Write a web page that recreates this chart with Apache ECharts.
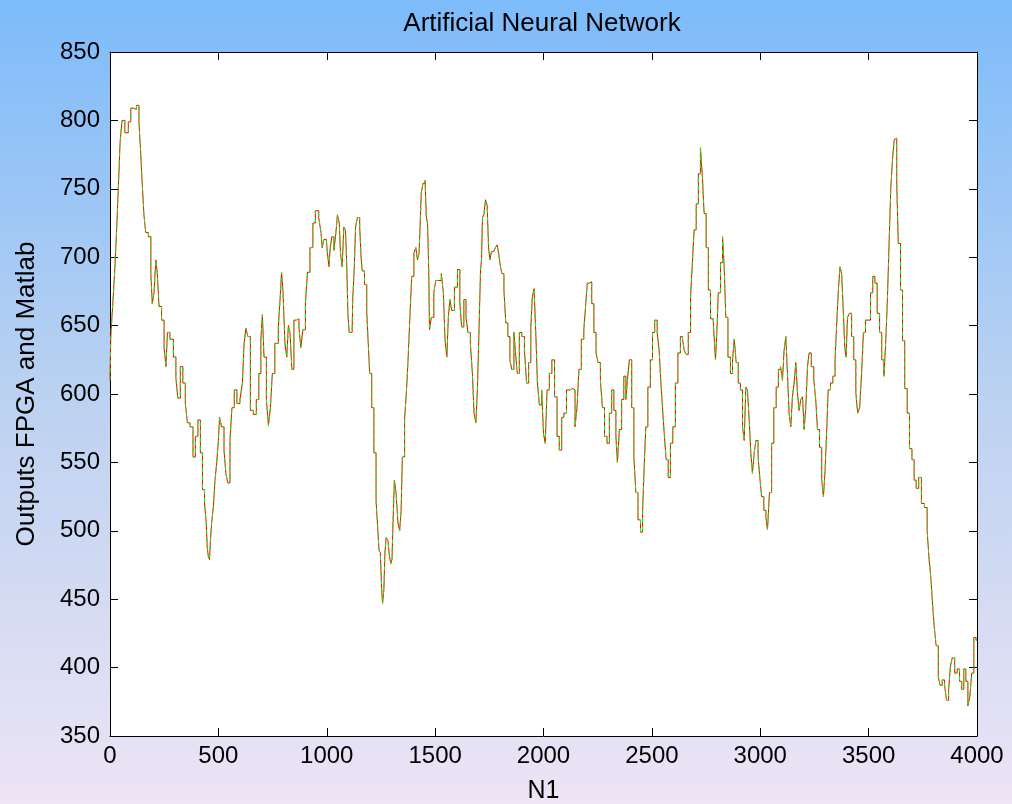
<!DOCTYPE html>
<html>
<head>
<meta charset="utf-8">
<title>Artificial Neural Network</title>
<script src="https://cdn.jsdelivr.net/npm/echarts@6/dist/echarts.min.js"></script>
<style>
  html, body { margin: 0; padding: 0; }
  #chart { width: 1012px; height: 804px; }
</style>
</head>
<body>
<div id="chart"></div>
<script>
// sample index (N1) and network output
const n1 = [
  0, 7, 18, 25, 35, 42, 51, 60, 77, 92, 100, 115, 129, 138, 146, 152, 161, 169, 185, 192,
  198, 208, 215, 221, 231, 245, 254, 262, 268, 285, 300, 308, 318, 331, 341, 354, 360, 378, 388, 400,
  411, 423, 430, 442, 446, 451, 457, 461, 466, 472, 481, 488, 497, 503, 508, 521, 531, 538, 549, 558,
  567, 580, 591, 608, 614, 623, 631, 641, 654, 669, 681, 692, 700, 706, 715, 728, 734, 746, 752, 769,
  784, 789, 794, 803, 811, 820, 826, 835, 843, 854, 866, 877, 884, 895, 908, 914, 931, 941, 954, 972,
  975, 983, 991, 998, 1006, 1014, 1018, 1029, 1037, 1044, 1055, 1060, 1067, 1075, 1083, 1090, 1095, 1100, 1107, 1117,
  1123, 1130, 1136, 1147, 1157, 1160, 1167, 1181, 1188, 1193, 1203, 1212, 1223, 1232, 1240, 1242, 1252, 1255, 1260, 1267,
  1270, 1278, 1286, 1293, 1298, 1304, 1309, 1315, 1324, 1333, 1340, 1346, 1352, 1366, 1370, 1379, 1387, 1397, 1407, 1415,
  1422, 1430, 1433, 1439, 1449, 1458, 1461, 1469, 1472, 1476, 1489, 1499, 1507, 1522, 1535, 1541, 1550, 1558, 1564, 1572,
  1582, 1596, 1610, 1618, 1627, 1638, 1647, 1656, 1669, 1675, 1684, 1692, 1698, 1707, 1712, 1716, 1721, 1729, 1736, 1744,
  1749, 1756, 1764, 1775, 1782, 1790, 1798, 1803, 1813, 1822, 1830, 1841, 1849, 1858, 1869, 1876, 1882, 1895, 1905, 1919,
  1925, 1938, 1945, 1952, 1961, 1969, 1975, 1987, 1996, 2004, 2012, 2021, 2033, 2044, 2058, 2067, 2079, 2089, 2099, 2113,
  2130, 2141, 2150, 2159, 2168, 2181, 2191, 2199, 2205, 2218, 2227, 2238, 2247, 2256, 2269, 2275, 2288, 2298, 2310, 2319,
  2330, 2338, 2344, 2356, 2365, 2376, 2384, 2390, 2402, 2412, 2422, 2430, 2442, 2453, 2461, 2468, 2476, 2487, 2499, 2507,
  2519, 2530, 2537, 2545, 2553, 2561, 2571, 2580, 2591, 2602, 2615, 2625, 2638, 2645, 2653, 2663, 2673, 2684, 2691, 2699,
  2710, 2719, 2729, 2737, 2745, 2756, 2765, 2776, 2791, 2796, 2802, 2811, 2822, 2830, 2837, 2845, 2857, 2868, 2876, 2884,
  2894, 2903, 2914, 2922, 2930, 2937, 2945, 2953, 2960, 2968, 2976, 2984, 2996, 3002, 3011, 3022, 3030, 3037, 3048, 3057,
  3068, 3079, 3088, 3099, 3106, 3114, 3122, 3129, 3137, 3145, 3152, 3160, 3168, 3175, 3183, 3191, 3199, 3206, 3214, 3222,
  3229, 3242, 3252, 3260, 3268, 3279, 3288, 3295, 3303, 3309, 3318, 3330, 3340, 3350, 3356, 3365, 3371, 3380, 3387, 3393,
  3399, 3406, 3417, 3426, 3437, 3445, 3454, 3463, 3472, 3480, 3491, 3503, 3514, 3524, 3534, 3545, 3556, 3565, 3576, 3583,
  3591, 3599, 3606, 3614, 3622, 3626, 3633, 3641, 3653, 3660, 3673, 3683, 3694, 3706, 3714, 3725, 3737, 3750, 3765, 3775,
  3783, 3792, 3799, 3806, 3817, 3826, 3834, 3845, 3856, 3863, 3875, 3880, 3891, 3903, 3914, 3925, 3934, 3944, 3953, 3963,
  3971, 3980, 3991, 4000
];
const outputs = [
  610, 642, 665, 689, 718, 751, 784, 800, 791, 799, 809, 808, 811, 799, 775, 753, 731, 718, 715, 688,
  666, 674, 698, 689, 664, 654, 634, 620, 645, 640, 627, 612, 597, 620, 608, 593, 579, 576, 554, 569,
  581, 557, 530, 520, 506, 488, 481, 479, 493, 506, 517, 537, 550, 566, 583, 576, 559, 542, 535, 566,
  590, 603, 593, 596, 608, 637, 648, 642, 588, 585, 596, 615, 640, 658, 627, 596, 577, 590, 615, 637,
  649, 674, 689, 674, 637, 627, 650, 645, 618, 654, 655, 649, 634, 647, 666, 689, 707, 725, 734, 729,
  718, 707, 713, 713, 705, 693, 707, 715, 705, 715, 731, 725, 703, 693, 722, 720, 693, 659, 645, 645,
  670, 690, 722, 729, 722, 700, 690, 680, 660, 640, 615, 590, 557, 522, 500, 486, 484, 457, 447, 457,
  484, 495, 493, 481, 476, 479, 510, 537, 528, 506, 500, 515, 554, 581, 603, 623, 654, 686, 703, 707,
  698, 703, 727, 747, 754, 756, 729, 725, 691, 647, 656, 674, 683, 683, 688, 674, 640, 627, 656, 669,
  661, 678, 691, 666, 649, 669, 656, 645, 637, 615, 586, 579, 603, 647, 691, 698, 729, 731, 742, 738,
  707, 698, 704, 704, 707, 709, 702, 694, 688, 676, 652, 642, 625, 618, 645, 627, 615, 645, 642, 632,
  608, 623, 649, 671, 677, 642, 608, 592, 603, 571, 564, 603, 615, 625, 598, 569, 559, 583, 586, 603,
  604, 603, 576, 590, 618, 640, 647, 666, 681, 682, 666, 645, 630, 623, 610, 590, 569, 564, 586, 603,
  588, 569, 550, 574, 596, 613, 596, 610, 625, 590, 554, 528, 508, 499, 513, 547, 576, 605, 625, 645,
  654, 645, 632, 610, 590, 571, 552, 539, 564, 576, 608, 630, 642, 640, 632, 629, 645, 671, 698, 720,
  739, 761, 780, 759, 732, 707, 676, 655, 652, 625, 642, 674, 696, 715, 693, 656, 627, 615, 625, 640,
  623, 608, 603, 576, 566, 605, 603, 581, 557, 542, 557, 566, 554, 537, 525, 515, 510, 501, 528, 564,
  590, 605, 618, 620, 610, 632, 642, 615, 586, 576, 598, 608, 623, 601, 588, 596, 598, 574, 590, 620,
  630, 620, 610, 596, 574, 561, 537, 525, 544, 571, 603, 608, 613, 625, 652, 676, 693, 688, 659, 634,
  627, 656, 659, 642, 625, 601, 586, 590, 615, 645, 654, 654, 674, 686, 681, 659, 645, 625, 613, 640,
  671, 713, 751, 771, 786, 787, 755, 710, 676, 639, 604, 586, 560, 552, 537, 531, 539, 520, 517, 500,
  479, 465, 445, 430, 416, 393, 387, 391, 387, 376, 384, 401, 407, 396, 399, 390, 384, 399, 390, 372,
  379, 396, 422, 420
];
const xTicks = [0, 500, 1000, 1500, 2000, 2500, 3000, 3500, 4000];
const yTicks = [350, 400, 450, 500, 550, 600, 650, 700, 750, 800, 850];

const points = n1.map((x, i) => [x, outputs[i]]);
const font = 'Liberation Sans, Arial, sans-serif';

const chart = echarts.init(document.getElementById('chart'), null, { renderer: 'canvas' });

const baseAxisLine = { show: true, onZero: false, lineStyle: { color: '#000', width: 1 } };
const baseTick = { show: true, inside: true, length: 8, lineStyle: { color: '#000' } };

const option = {
  animation: false,
  backgroundColor: {
    type: 'linear', x: 0, y: 0, x2: 0, y2: 1,
    colorStops: [
      { offset: 0, color: '#7dbbfa' },
      { offset: 0.5, color: '#bcd2f1' },
      { offset: 1, color: '#ede4f5' }
    ]
  },
  title: {
    text: 'Artificial Neural Network',
    left: 537,
    textAlign: 'center',
    top: 6,
    textStyle: { fontFamily: font, fontSize: 26, fontWeight: 'normal', color: '#000' }
  },
  grid: {
    left: 110, right: 35, top: 52, bottom: 68,
    containLabel: false,
    outerBoundsMode: 'none',
    show: true, backgroundColor: '#fff', borderWidth: 0
  },
  xAxis: [{
    type: 'value', min: 0, max: 4000, interval: 500, position: 'bottom',
    name: 'N1', nameLocation: 'middle', nameGap: 43,
    nameTextStyle: { fontFamily: font, fontSize: 25, color: '#000' },
    axisLine: baseAxisLine, axisTick: baseTick,
    axisLabel: {
      fontFamily: font, fontSize: 24, color: '#000', margin: 8,
      formatter: v => xTicks.includes(v) ? String(v) : ''
    },
    splitLine: { show: false }
  }, {
    type: 'value', min: 0, max: 4000, interval: 500, position: 'top',
    axisLine: baseAxisLine, axisTick: baseTick,
    axisLabel: { show: false }, splitLine: { show: false }
  }],
  yAxis: [{
    type: 'value', min: 350, max: 850, interval: 50, position: 'left',
    name: 'Outputs FPGA and Matlab', nameLocation: 'middle', nameGap: 70,
    nameTextStyle: { fontFamily: font, fontSize: 26, color: '#000' },
    axisLine: baseAxisLine, axisTick: baseTick,
    axisLabel: {
      fontFamily: font, fontSize: 24, color: '#000', margin: 10,
      formatter: v => yTicks.includes(v) ? String(v) : ''
    },
    splitLine: { show: false }
  }, {
    type: 'value', min: 350, max: 850, interval: 50, position: 'right',
    axisLine: baseAxisLine, axisTick: baseTick,
    axisLabel: { show: false }, splitLine: { show: false }
  }],
  series: [{
    name: 'Matlab',
    type: 'line',
    step: 'middle',
    data: points,
    xAxisIndex: 0, yAxisIndex: 0,
    symbol: 'none',
    lineStyle: { color: '#ff0000', width: 1 },
    z: 2
  }, {
    name: 'FPGA',
    type: 'line',
    step: 'middle',
    data: points,
    xAxisIndex: 0, yAxisIndex: 0,
    symbol: 'none',
    lineStyle: { color: '#00ff00', width: 1, type: [4, 4] },
    z: 3
  }]
};

chart.setOption(option);
window.onresize = () => {
  chart.resize();
};
</script>
</body>
</html>
